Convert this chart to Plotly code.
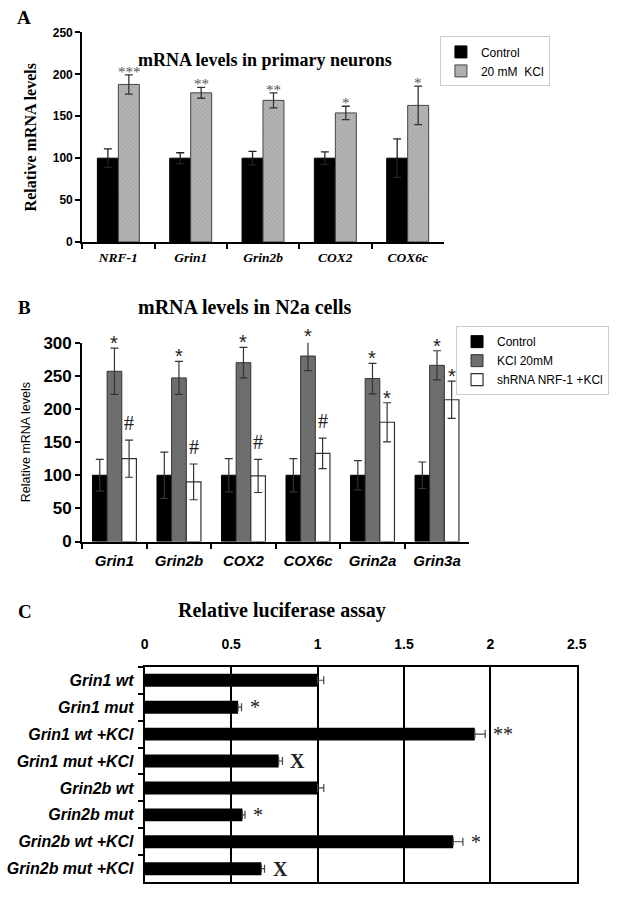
import plotly.graph_objects as go

W, H = 620, 899

# ---------------- Panel A data ----------------
a_genes = ["NRF-1", "Grin1", "Grin2b", "COX2", "COX6c"]
a_control = [100, 100, 100, 100, 100]
a_control_err = [11, 6.5, 8, 7.5, 23]
a_kcl = [188, 178, 169, 154, 163]
a_kcl_err = [11.5, 6.5, 9, 8, 23]
a_sig = ["***", "**", "**", "*", "*"]

# ---------------- Panel B data ----------------
b_genes = ["Grin1", "Grin2b", "COX2", "COX6c", "Grin2a", "Grin3a"]
b_control = [100, 100, 100, 100, 100, 100]
b_control_err = [24, 35, 25, 25, 22, 20]
b_kcl = [257, 247, 270, 280, 246, 266]
b_kcl_err = [35, 25, 23, 22, 23, 22]
b_sh = [125, 90, 99, 133, 180, 214]
b_sh_err = [28, 27, 25, 23, 29.5, 28]
b_kcl_sig = ["*", "*", "*", "*", "*", "*"]
b_sh_sig = ["#", "#", "#", "#", "*", "*"]

# ---------------- Panel C data ----------------
c_labels = ["Grin1 wt", "Grin1 mut", "Grin1 wt +KCl", "Grin1 mut +KCl",
            "Grin2b wt", "Grin2b mut", "Grin2b wt +KCl", "Grin2b mut +KCl"]
c_values = [1.0, 0.54, 1.91, 0.775, 1.0, 0.565, 1.785, 0.675]
c_err = [0.036, 0.02, 0.06, 0.022, 0.036, 0.015, 0.056, 0.018]
c_sig = ["", "*", "**", "X", "", "*", "*", "X"]

A_MAX, B_MAX = 250, 300


def px_x(p):
    return p / W


def px_y(p):
    return 1 - p / H


SERIF = "Liberation Serif"
SANS = "Liberation Sans"

# pixel geometry of the panels
A_X0, A_X1, A_Y0, A_Y1 = 80, 450, 238, 24
B_X0, B_X1, B_Y0, B_Y1 = 80, 476, 544, 341
C_X0, C_X1, C_Y0, C_Y1 = 144, 586, 892, 672

fig = go.Figure()

# ---------------- Panel A ----------------
wa = 0.29
fig.add_trace(go.Bar(
    x=a_genes, y=a_control, name="Control", xaxis="x", yaxis="y",
    width=wa, offset=-wa,
    marker=dict(color="black", line=dict(color="black", width=1)),
    error_y=dict(type="data", array=a_control_err, color="#222", thickness=1.3, width=4),
    legend="legend",
))
fig.add_trace(go.Bar(
    x=a_genes, y=a_kcl, name="20 mM\u00a0 KCl", xaxis="x", yaxis="y",
    width=wa, offset=0,
    marker=dict(color="#b4b4b4", line=dict(color="#444", width=1),
                pattern=dict(shape="x", fgcolor="#8a8a8a", size=3, solidity=0.3)),
    error_y=dict(type="data", array=a_kcl_err, color="#333", thickness=1.3, width=4),
    legend="legend",
))

# ---------------- Panel B ----------------
wb = 0.227
fig.add_trace(go.Bar(
    x=b_genes, y=b_control, name="Control", xaxis="x2", yaxis="y2",
    width=wb, offset=-1.5 * wb,
    marker=dict(color="black", line=dict(color="black", width=1)),
    error_y=dict(type="data", array=b_control_err, color="#333", thickness=1.2, width=4),
    legend="legend2",
))
fig.add_trace(go.Bar(
    x=b_genes, y=b_kcl, name="KCl 20mM", xaxis="x2", yaxis="y2",
    width=wb, offset=-0.5 * wb,
    marker=dict(color="#6e6e6e", line=dict(color="#333", width=1)),
    error_y=dict(type="data", array=b_kcl_err, color="#333", thickness=1.2, width=4),
    legend="legend2",
))
fig.add_trace(go.Bar(
    x=b_genes, y=b_sh, name="shRNA NRF-1 +KCl", xaxis="x2", yaxis="y2",
    width=wb, offset=0.5 * wb,
    marker=dict(color="white", line=dict(color="#333", width=1.2)),
    error_y=dict(type="data", array=b_sh_err, color="#333", thickness=1.2, width=4),
    legend="legend2",
))

# ---------------- Panel C ----------------
fig.add_trace(go.Bar(
    y=c_labels, x=c_values, orientation="h", xaxis="x3", yaxis="y3",
    width=0.48, showlegend=False,
    marker=dict(color="black", line=dict(color="black", width=0)),
    error_x=dict(type="data", array=c_err, arrayminus=[0] * len(c_err),
                 color="#444", thickness=1.2, width=4),
))

annotations = []
# panel letters
for letter, xp, yp in [("A", 20, 9), ("B", 21, 305), ("C", 21, 615)]:
    annotations.append(dict(text=letter, x=px_x(xp), y=px_y(yp), xref="paper", yref="paper",
                            showarrow=False, xanchor="center", yanchor="middle",
                            font=dict(family=SERIF, size=19, color="black", weight="bold")))
# titles
annotations.append(dict(text="mRNA levels in primary neurons", x=px_x(267), y=px_y(40),
                        xref="paper", yref="paper", showarrow=False,
                        font=dict(family=SERIF, size=18, color="black", weight="bold")))
annotations.append(dict(text="mRNA levels in N2a cells", x=px_x(247), y=px_y(304),
                        xref="paper", yref="paper", showarrow=False,
                        font=dict(family=SERIF, size=20, color="black", weight="bold")))
annotations.append(dict(text="Relative luciferase assay", x=px_x(284), y=px_y(628),
                        xref="paper", yref="paper", showarrow=False,
                        font=dict(family=SERIF, size=20, color="black", weight="bold")))


def clipped(top, vmax, pix_span):
    """anchor inside the axis range; the overflow becomes a pixel shift"""
    anchor = min(top, vmax)
    return anchor, (top - anchor) * pix_span / vmax


# significance marks panel A
for g, v, e, s in zip(a_genes, a_kcl, a_kcl_err, a_sig):
    yv, extra = clipped(v + e, A_MAX, A_Y0 - A_Y1)
    annotations.append(dict(text=s, x=g, y=yv, xref="x", yref="y", showarrow=False,
                            xanchor="center", yanchor="bottom",
                            xshift=wa * (A_X1 - A_X0) / len(a_genes) / 2, yshift=-7 + extra,
                            font=dict(family=SERIF, size=15, color="#555")))
# significance marks panel B
b_cat_px = (B_X1 - B_X0) / len(b_genes)
for g, v, e, s in zip(b_genes, b_kcl, b_kcl_err, b_kcl_sig):
    yv, extra = clipped(v + e, B_MAX, B_Y0 - B_Y1)
    annotations.append(dict(text=s, x=g, y=yv, xref="x2", yref="y2", showarrow=False,
                            xanchor="center", yanchor="bottom", yshift=-8 + extra,
                            font=dict(family=SANS, size=20, color="#222")))
for g, v, e, s in zip(b_genes, b_sh, b_sh_err, b_sh_sig):
    yv, extra = clipped(v + e, B_MAX, B_Y0 - B_Y1)
    ys = 4 if s == "#" else -8
    annotations.append(dict(text=s, x=g, y=yv, xref="x2", yref="y2", showarrow=False,
                            xanchor="center", yanchor="bottom", xshift=wb * b_cat_px,
                            yshift=ys + extra,
                            font=dict(family=SERIF if s == "#" else SANS, size=20, color="#222")))
# significance marks panel C
for lab, v, e, s in zip(c_labels, c_values, c_err, c_sig):
    if not s:
        continue
    annotations.append(dict(text=s, x=v + e, y=lab, xref="x3", yref="y3", showarrow=False,
                            xanchor="left", yanchor="middle", xshift=6,
                            font=dict(family=SERIF, size=20, color="#222",
                                      weight="bold" if s == "X" else "normal")))

axis_common = dict(showline=True, linecolor="black", linewidth=2, ticks="outside",
                   tickcolor="black", tickwidth=2, ticklen=5, showgrid=False, zeroline=False)

fig.update_layout(
    width=W, height=H,
    margin=dict(l=0, r=0, t=0, b=0),
    paper_bgcolor="white", plot_bgcolor="rgba(0,0,0,0)",
    barmode="overlay",
    showlegend=True,
    xaxis=dict(domain=[px_x(A_X0), px_x(A_X1)], anchor="y", tickson="boundaries",
               ticklabelstandoff=2,
               tickfont=dict(family=SERIF, size=13.5, color="black", weight="bold", style="italic"),
               **axis_common),
    yaxis=dict(domain=[px_y(A_Y0), px_y(A_Y1)], anchor="x", range=[0, A_MAX], dtick=50,
               title=dict(text="Relative mRNA levels", standoff=12,
                          font=dict(family=SERIF, size=16, color="black", weight="bold")),
               tickfont=dict(family=SANS, size=12, color="black", weight="bold"),
               **axis_common),
    xaxis2=dict(domain=[px_x(B_X0), px_x(B_X1)], anchor="y2", tickson="boundaries",
                ticklabelstandoff=4,
                tickfont=dict(family=SANS, size=15, color="black", weight="bold", style="italic"),
                **axis_common),
    yaxis2=dict(domain=[px_y(B_Y0), px_y(B_Y1)], anchor="x2", range=[0, B_MAX], dtick=50,
                title=dict(text="Relative mRNA levels", standoff=10,
                           font=dict(family=SANS, size=12.5, color="black")),
                tickfont=dict(family=SANS, size=17, color="black", weight="bold"),
                **axis_common),
    xaxis3=dict(domain=[px_x(C_X0), px_x(C_X1)], anchor="y3", side="top", range=[0, 2.5], dtick=0.5,
                showline=True, linecolor="black", linewidth=2, mirror=True,
                ticks="", showgrid=True, gridcolor="black", gridwidth=2, zeroline=False,
                ticklabelstandoff=10,
                tickfont=dict(family=SANS, size=14, color="black", weight="bold")),
    xaxis4=dict(domain=[px_x(C_X0), px_x(C_X1)], anchor="y3", overlaying="x3", side="bottom",
                range=[0, 2.5], dtick=0.5, showticklabels=False, showline=False,
                ticks="outside", tickcolor="black", tickwidth=2, ticklen=5,
                showgrid=False, zeroline=False),
    yaxis3=dict(domain=[px_y(C_Y0), px_y(C_Y1)], anchor="x3", autorange="reversed",
                tickson="boundaries", showline=True, linecolor="black", linewidth=2, mirror=True,
                ticks="outside", tickcolor="black", tickwidth=2, ticklen=5, showgrid=False,
                zeroline=False, ticklabelstandoff=6,
                tickfont=dict(family=SANS, size=16, color="black", weight="bold", style="italic")),
    legend=dict(x=px_x(446), y=px_y(28), xanchor="left", yanchor="top",
                bordercolor="#cccccc", borderwidth=1, bgcolor="white",
                font=dict(family=SANS, size=12, color="black"), tracegroupgap=0,
                itemwidth=30),
    legend2=dict(x=px_x(619), y=px_y(324), xanchor="right", yanchor="top",
                 bordercolor="#cccccc", borderwidth=1, bgcolor="white",
                 font=dict(family=SANS, size=12, color="black"), tracegroupgap=0,
                 itemwidth=30),
    annotations=annotations,
)

fig.write_html("out.html", config={"displayModeBar": False},
               post_script="document.body.style.margin='0px';")
